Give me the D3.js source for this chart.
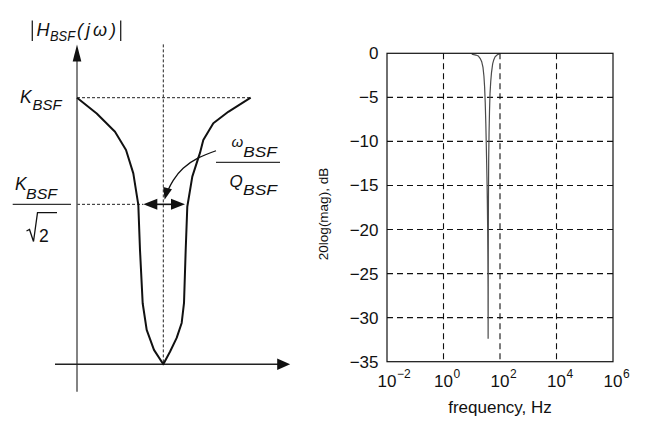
<!DOCTYPE html>
<html>
<head>
<meta charset="utf-8">
<script src="https://cdn.jsdelivr.net/npm/d3@7"></script>
<style>
  html, body { margin: 0; padding: 0; background: #fff; }
  svg { display: block; }
  text { font-family: "Liberation Sans", Arial, Helvetica, sans-serif; fill: #111; }
</style>
</head>
<body>
<script>
// ---- Band-stop sketch: |H(jω)| versus ω (normalised units, notch at ω = 2) ----
const sketchOmega = [0, 0.457, 0.881, 1.136, 1.305, 1.421, 1.460, 1.522, 1.615, 1.784, 2.0,
                     2.155, 2.31, 2.426, 2.48, 2.519, 2.556, 2.672, 2.85, 2.927, 3.159, 3.506, 4.025];
const sketchMag   = [1, 0.941, 0.872, 0.804, 0.716, 0.598, 0.429, 0.229, 0.129, 0.054, 0,
                     0.047, 0.099, 0.155, 0.23, 0.429, 0.591, 0.704, 0.793, 0.841, 0.904, 0.947, 1];
const passLevel = 1;          // K_BSF
const halfPowerLevel = 0.6;   // K_BSF / sqrt(2) as drawn
const notchOmega = 2;         // ω_BSF
const bandEdges = [1.537, 2.503]; // width arrow ends (ω_BSF / Q_BSF)

// ---- Measured notch response ----
const freqHz = [10, 14, 17, 20, 22.5, 25, 27, 28.5, 30, 31.5, 33, 34.5, 35.5, 36.5, 37.2, 37.7,
                38.0, 38.3, 38.6, 39.0, 39.8, 41, 42.5, 44.3, 47, 50, 55, 60, 67, 75, 85, 100];
const magDb  = [-0.1, -0.2, -0.3, -0.6, -0.95, -1.6, -2.6, -3.8, -5.6, -8.0, -11.0, -14.0, -16.5, -19.5, -23, -26.5,
                -32.4, -26.2, -20.5, -16.5, -12.0, -9.0, -6.6, -4.6, -3.2, -2.2, -1.2, -0.75, -0.4, -0.25, -0.12, -0.05];
const yTicks = [0, -5, -10, -15, -20, -25, -30, -35];
const xTickExponents = [-2, 0, 2, 4, 6];

const W = 648, H = 426;
const svg = d3.select("body").append("svg").attr("width", W).attr("height", H);
svg.append("rect").attr("width", W).attr("height", H).attr("fill", "#fff");

// ================= Left panel =================
const xL = d3.scaleLinear().domain([0, 2]).range([77, 163.3]);
const yL = d3.scaleLinear().domain([0, 1]).range([364.3, 97.7]);
const left = svg.append("g");
const axisGray = "#5a5a5a";

function head(g, tip, angle, len, halfW, fill) {
  // triangular arrow head with its point at `tip`, pointing along `angle` (radians)
  const [tx, ty] = tip;
  const bx = tx - len * Math.cos(angle), by = ty - len * Math.sin(angle);
  const nx = -Math.sin(angle) * halfW, ny = Math.cos(angle) * halfW;
  g.append("path")
    .attr("d", `M${tx},${ty}L${bx + nx},${by + ny}L${bx - nx},${by - ny}Z`)
    .attr("fill", fill);
}

// dashed guide lines
const dash = { stroke: "#222", "stroke-width": 1, "stroke-dasharray": "3,2" };
function dashed(x1, y1, x2, y2) {
  const l = left.append("line").attr("x1", x1).attr("y1", y1).attr("x2", x2).attr("y2", y2);
  Object.entries(dash).forEach(([k, v]) => l.attr(k, v));
}
dashed(xL(0), yL(passLevel), xL(4.025), yL(passLevel));
dashed(xL(0), yL(halfPowerLevel), xL(bandEdges[0]), yL(halfPowerLevel));
dashed(xL(notchOmega), yL(1.2), xL(notchOmega), yL(0));

// axes
left.append("line").attr("x1", xL(0)).attr("y1", yL(-0.103)).attr("x2", xL(0)).attr("y2", yL(1.2) + 14)
  .attr("stroke", axisGray).attr("stroke-width", 1.5);
head(left, [xL(0), yL(1.2)], -Math.PI / 2, 17, 4.3, "#111");
left.append("line").attr("x1", xL(-0.51)).attr("y1", yL(0)).attr("x2", xL(4.94) - 10).attr("y2", yL(0))
  .attr("stroke", "#222").attr("stroke-width", 1.4);
head(left, [xL(4.94), yL(0)], 0, 13, 5.8, "#111");

// response sketch
left.append("path")
  .datum(d3.zip(sketchOmega, sketchMag))
  .attr("d", d3.line().x(d => xL(d[0])).y(d => yL(d[1])))
  .attr("fill", "none").attr("stroke", "#111").attr("stroke-width", 2).attr("stroke-linejoin", "round");

// bandwidth double arrow
const yBw = yL(halfPowerLevel);
left.append("line").attr("x1", xL(bandEdges[0]) + 8).attr("y1", yBw).attr("x2", xL(bandEdges[1]) - 8).attr("y2", yBw)
  .attr("stroke", "#111").attr("stroke-width", 1.6);
head(left, [xL(bandEdges[0]), yBw], Math.PI, 14, 5.5, "#111");
head(left, [xL(bandEdges[1]), yBw], 0, 14, 5.5, "#111");

// leader from the ω/Q label to the arrow
const leaderPts = [[3.221, 0.801], [2.81, 0.774], [2.46, 0.735], [2.23, 0.69], [2.10, 0.65]];
left.append("path")
  .datum(leaderPts)
  .attr("d", d3.line().x(d => xL(d[0])).y(d => yL(d[1])).curve(d3.curveNatural))
  .attr("fill", "none").attr("stroke", "#111").attr("stroke-width", 1.3);
head(left, [xL(2.03), yL(0.617)], Math.atan2(yL(0.617) - yL(0.67), xL(2.03) - xL(2.115)), 12, 4.5, "#111");

// labels
function itext(g, x, y, s, size, opts = {}) {
  const t = g.append("text").attr("x", x).attr("y", y).attr("font-size", size)
    .attr("font-style", opts.upright ? "normal" : "italic").text(s);
  if (opts.len) t.attr("textLength", opts.len).attr("lengthAdjust", opts.adjust || "spacingAndGlyphs");
  if (opts.anchor) t.attr("text-anchor", opts.anchor);
  return t;
}
// |H_BSF(jω)|
left.append("line").attr("x1", 32.3).attr("y1", 20.5).attr("x2", 32.3).attr("y2", 41).attr("stroke", "#222").attr("stroke-width", 1.3);
left.append("line").attr("x1", 120.7).attr("y1", 20.5).attr("x2", 120.7).attr("y2", 41).attr("stroke", "#222").attr("stroke-width", 1.3);
itext(left, 36.5, 35.7, "H", 18);
itext(left, 50, 40.5, "BSF", 14, { len: 25 });
itext(left, 77, 36, "(jω)", 18, { len: 39, adjust: "spacing" });
// K_BSF
itext(left, 20, 102.7, "K", 17.5);
itext(left, 32.5, 110, "BSF", 14.5, { len: 29 });
// K_BSF / sqrt(2)
itext(left, 15, 190, "K", 17.5);
itext(left, 26, 199.3, "BSF", 14.5, { len: 31 });
left.append("line").attr("x1", 12.7).attr("y1", 204.3).attr("x2", 71).attr("y2", 204.3).attr("stroke", "#333").attr("stroke-width", 1.2);
left.append("path").attr("d", "M26.5,231L29.5,229.5L33.5,241.5L37.5,212.7L57,212.7")
  .attr("fill", "none").attr("stroke", "#111").attr("stroke-width", 1.3).attr("stroke-linejoin", "miter");
itext(left, 39, 241.7, "2", 17.5, { upright: true });
// ω_BSF / Q_BSF
itext(left, 231.5, 147.3, "ω", 15);
itext(left, 243.3, 157.3, "BSF", 14, { len: 33.5 });
left.append("line").attr("x1", 216).attr("y1", 162.3).attr("x2", 280).attr("y2", 162.3).attr("stroke", "#333").attr("stroke-width", 1.2);
itext(left, 229.5, 186.7, "Q", 17);
itext(left, 243, 195, "BSF", 14, { len: 34 });

// ================= Right panel =================
const xR = d3.scaleLog().domain([1e-2, 1e6]).range([387, 613]);
const yR = d3.scaleLinear().domain([-35, 0]).range([361.7, 53.3]);
const right = svg.append("g");

// grid
right.selectAll("line.gx").data(xTickExponents.slice(1, -1)).join("line")
  .attr("x1", e => xR(Math.pow(10, e))).attr("x2", e => xR(Math.pow(10, e)))
  .attr("y1", yR(0)).attr("y2", yR(-35))
  .attr("stroke", "#111").attr("stroke-width", 1.1).attr("stroke-dasharray", "6,4");
right.selectAll("line.gy").data(yTicks.slice(1, -1)).join("line")
  .attr("x1", xR(1e-2)).attr("x2", xR(1e6))
  .attr("y1", d => yR(d)).attr("y2", d => yR(d))
  .attr("stroke", "#111").attr("stroke-width", 1.1).attr("stroke-dasharray", "6,4");

// response curve
right.append("path")
  .datum(d3.zip(freqHz, magDb))
  .attr("d", d3.line().x(d => xR(d[0])).y(d => yR(d[1])))
  .attr("fill", "none").attr("stroke", "#4a4a4a").attr("stroke-width", 1.2);

// frame
right.append("rect")
  .attr("x", xR(1e-2)).attr("y", yR(0))
  .attr("width", xR(1e6) - xR(1e-2)).attr("height", yR(-35) - yR(0))
  .attr("fill", "none").attr("stroke", "#111").attr("stroke-width", 1.2);

// y tick labels
right.selectAll("text.yt").data(yTicks).join("text")
  .attr("x", xR(1e-2) - 8.5).attr("y", d => yR(d) + 6)
  .attr("text-anchor", "end").attr("font-size", 17)
  .text(d => d < 0 ? "\u2212" + Math.abs(d) : String(d));

// x tick labels: 10 with superscript exponent
const xt = right.selectAll("g.xt").data(xTickExponents).join("g")
  .attr("transform", e => `translate(${xR(Math.pow(10, e))},0)`);
xt.append("text").attr("x", -9.5).attr("y", 386.5).attr("font-size", 17).text("10");
xt.append("text").attr("x", 10).attr("y", 378).attr("font-size", 12)
  .text(e => e < 0 ? "\u2212" + Math.abs(e) : String(e));

// axis titles
right.append("text").attr("x", 500).attr("y", 413.3).attr("text-anchor", "middle").attr("font-size", 17)
  .text("frequency, Hz");
right.append("text").attr("transform", "translate(327.5,214) rotate(-90)")
  .attr("text-anchor", "middle").attr("font-size", 13.5).text("20log(mag), dB");
</script>
</body>
</html>
